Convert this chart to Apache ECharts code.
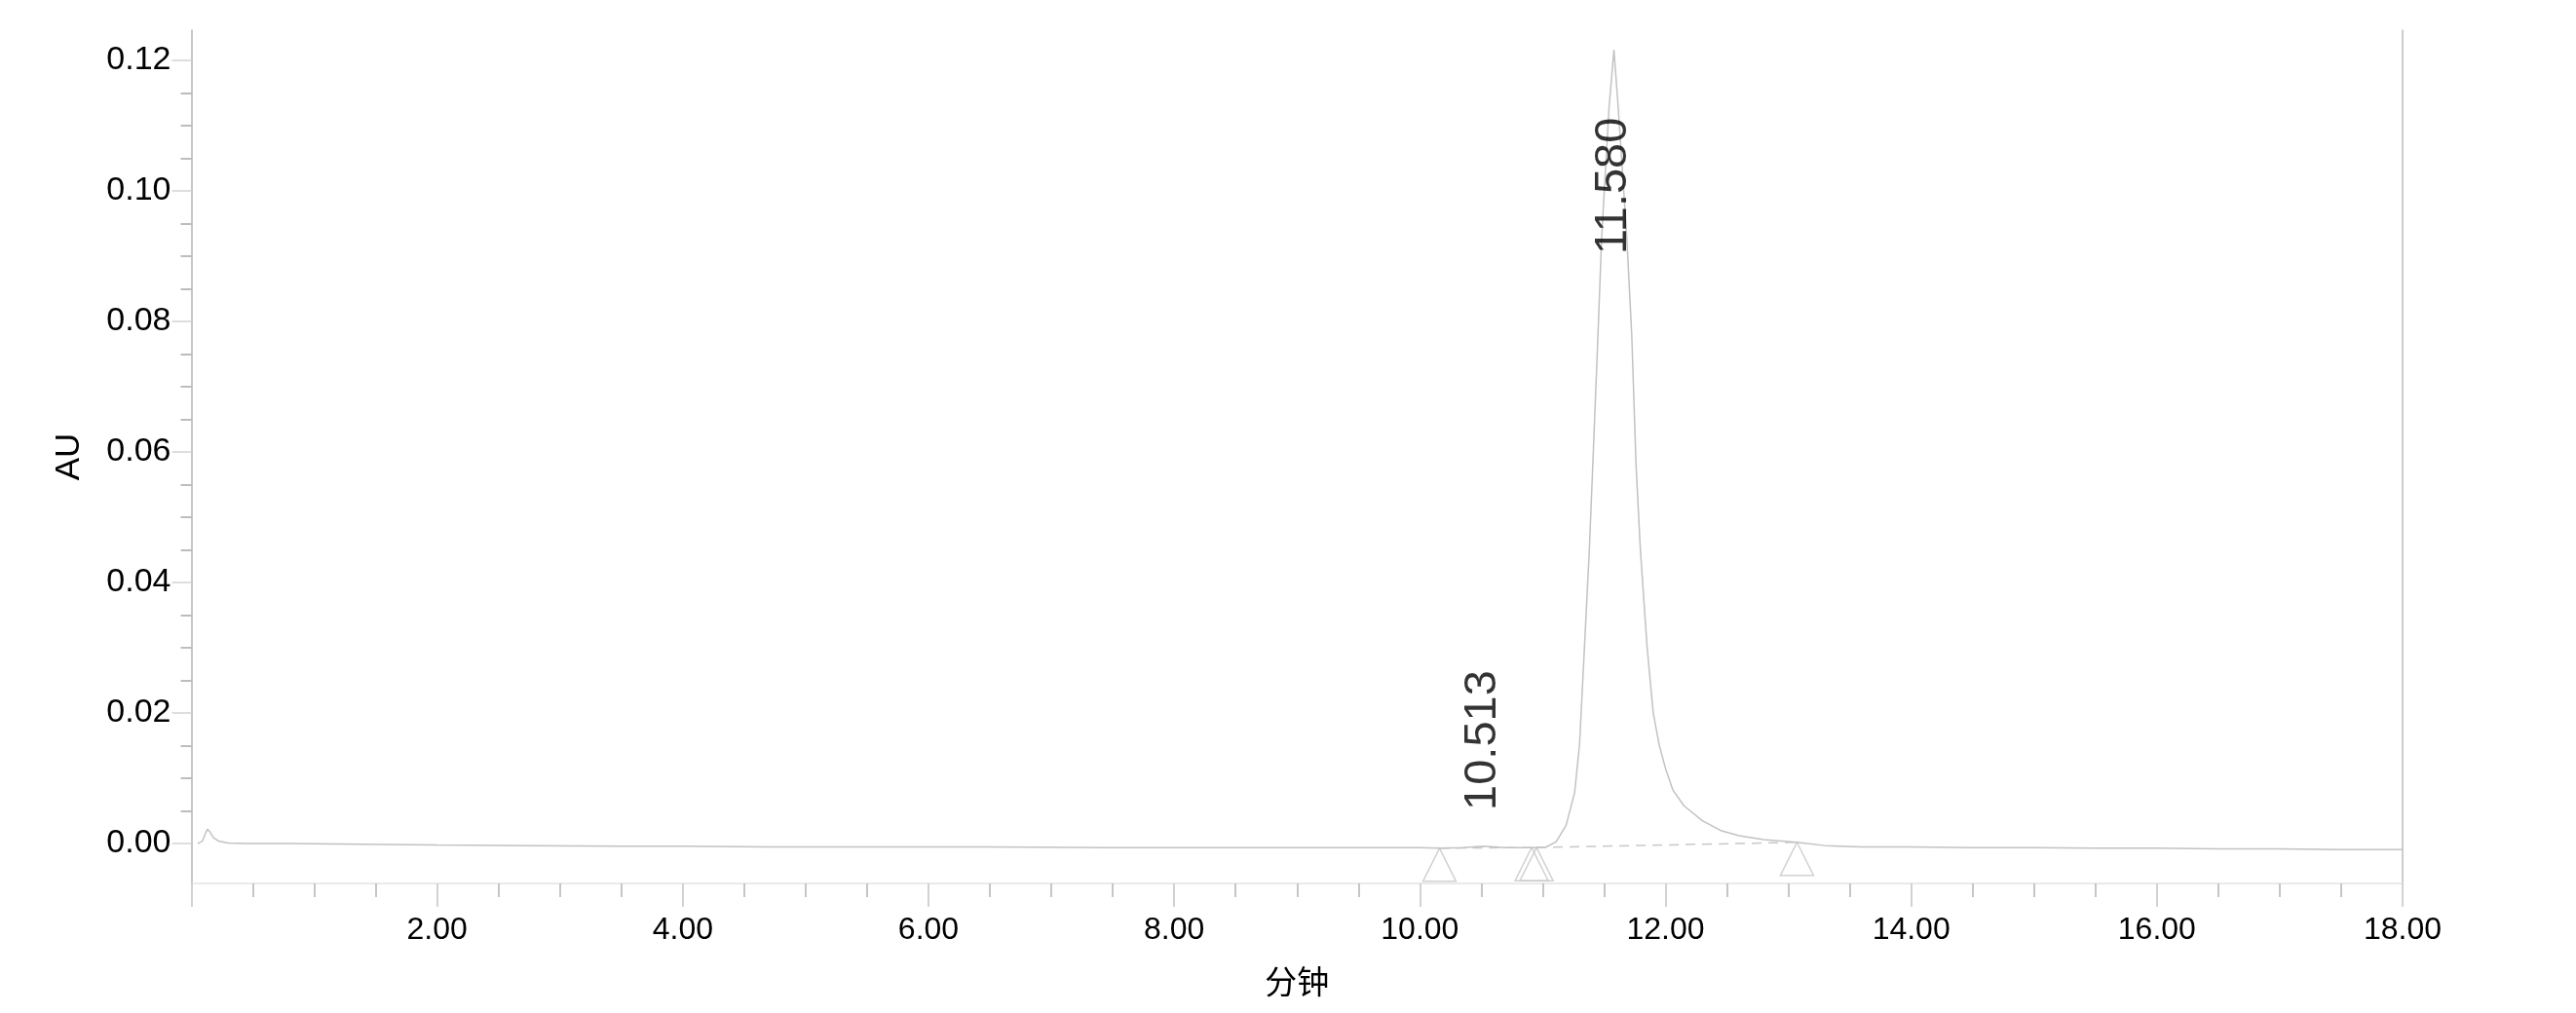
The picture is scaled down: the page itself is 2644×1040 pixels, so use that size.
<!DOCTYPE html>
<html>
<head>
<meta charset="utf-8">
<script src="https://cdn.jsdelivr.net/npm/echarts@6/dist/echarts.min.js"></script>
<style>
html,body{margin:0;padding:0;background:#fff;}
#chart{width:2644px;height:1040px;}
</style>
</head>
<body>
<div id="chart"></div>
<script>
// ---- data ----
const times = [0.05, 0.09, 0.11, 0.13, 0.15, 0.18, 0.22, 0.30, 0.45, 0.8, 1.4, 2.0, 2.8, 3.5, 4.0, 4.7, 5.5, 6.5, 7.5, 8.5, 9.5, 10.0, 10.16, 10.35, 10.513, 10.7, 10.93, 11.03, 11.11, 11.19, 11.26, 11.30, 11.34, 11.38, 11.41, 11.45, 11.48, 11.54, 11.58, 11.615, 11.685, 11.725, 11.76, 11.795, 11.85, 11.90, 11.95, 12.0, 12.06, 12.15, 12.3, 12.45, 12.6, 12.8, 13.07, 13.3, 13.6, 14.0, 14.5, 15.0, 15.5, 16.0, 16.5, 17.0, 17.5, 18.0];
const absorbance = [0.0000, 0.0004, 0.0014, 0.0022, 0.0018, 0.0009, 0.0004, 0.0001, 0.0000, 0.0000, -0.0001, -0.0002, -0.0003, -0.0004, -0.0004, -0.0005, -0.0005, -0.0005, -0.0006, -0.0006, -0.0006, -0.0006, -0.0007, -0.0006, -0.0004, -0.0006, -0.0006, -0.0005, 0.0003, 0.0028, 0.0078, 0.0152, 0.0301, 0.0451, 0.0590, 0.0779, 0.0928, 0.1127, 0.1216, 0.1127, 0.0928, 0.0779, 0.0580, 0.0451, 0.0301, 0.0200, 0.0150, 0.0115, 0.0082, 0.0058, 0.0035, 0.0020, 0.0012, 0.0006, 0.0002, -0.0003, -0.0005, -0.0005, -0.0006, -0.0006, -0.0007, -0.0007, -0.0008, -0.0008, -0.0009, -0.0009];

const peakTimes = [10.513, 11.580];
const peakLabelY = [0.0051, 0.0903];

const markerTimes = [10.16, 10.91, 10.95, 13.07];
const markerValues = [-0.0007, -0.0006, -0.0006, 0.0002];

// integration baselines: [start marker index, end marker index]
const baselinePairs = [[0, 1], [2, 3]];

const yLabelValues = [0, 0.02, 0.04, 0.06, 0.08, 0.10, 0.12];
const yMinorTickValues = [0.005, 0.01, 0.015, 0.025, 0.03, 0.035, 0.045, 0.05, 0.055, 0.065, 0.07, 0.075, 0.085, 0.09, 0.095, 0.105, 0.11, 0.115];

const xMin = 0, xMax = 18, xInterval = 2;
const yMin = -0.0061, yMax = 0.1246;

// ---- build ----
const FONT = '"Liberation Sans", Arial, sans-serif';
const traceData = times.map((t, i) => [t, absorbance[i]]);
const markerData = markerTimes.map((t, i) => [t, markerValues[i]]);
const labelData = peakTimes.map((t, i) => [t, peakLabelY[i]]);

const baselineSeries = baselinePairs.map(p => ({
  type: 'line',
  data: [markerData[p[0]], markerData[p[1]]],
  showSymbol: false,
  silent: true,
  lineStyle: { color: '#c8c8c8', width: 1.5, type: [10, 7] },
  z: 2
}));

const chart = echarts.init(document.getElementById('chart'), null, { renderer: 'canvas' });
chart.setOption({
  animation: false,
  backgroundColor: '#ffffff',
  grid: { left: 196.5, right: 178, top: 31, bottom: 133, containLabel: false },
  xAxis: {
    type: 'value',
    min: xMin, max: xMax, interval: xInterval,
    name: '分钟',
    nameLocation: 'middle',
    nameGap: 84,
    nameTextStyle: { fontFamily: '"Noto Sans CJK SC", sans-serif', fontSize: 33, color: '#000' },
    axisLine: { show: true, onZero: false, lineStyle: { color: '#e4e4e4', width: 1.5 } },
    axisTick: { show: true, length: 24, lineStyle: { color: '#c4c4c4', width: 1.5 } },
    minorTick: { show: true, splitNumber: 4, length: 14, lineStyle: { color: '#b4b4b4', width: 1.5 } },
    splitLine: { show: false },
    axisLabel: {
      fontFamily: FONT, fontSize: 32, color: '#000', margin: 32,
      formatter: v => (v === 0 ? '' : v.toFixed(2))
    }
  },
  yAxis: [
    {
      type: 'value',
      min: yMin, max: yMax,
      name: 'AU',
      nameLocation: 'middle',
      nameGap: 108,
      nameTextStyle: { fontFamily: FONT, fontSize: 35, color: '#000' },
      axisLine: { show: true, lineStyle: { color: '#b4b4b4', width: 1.5 } },
      axisTick: { show: true, length: 20, customValues: yLabelValues, lineStyle: { color: '#d4d4d4', width: 1.5 } },
      splitLine: { show: false },
      axisLabel: {
        fontFamily: FONT, fontSize: 34, color: '#000', margin: 21,
        customValues: yLabelValues,
        formatter: v => v.toFixed(2)
      }
    },
    {
      type: 'value',
      min: yMin, max: yMax,
      position: 'left',
      axisLine: { show: false },
      axisTick: { show: true, length: 11, customValues: yMinorTickValues, lineStyle: { color: '#a8a8a8', width: 1.5 } },
      axisLabel: { show: false },
      splitLine: { show: false }
    },
    {
      type: 'value',
      min: yMin, max: yMax,
      position: 'right',
      axisLine: { show: true, lineStyle: { color: '#bdbdbd', width: 1.5 } },
      axisTick: { show: false },
      axisLabel: { show: false },
      splitLine: { show: false }
    }
  ],
  series: [
    {
      type: 'line',
      data: traceData,
      showSymbol: false,
      silent: true,
      lineStyle: { color: '#c2c2c2', width: 1.5 },
      z: 3
    },
    ...baselineSeries,
    {
      type: 'scatter',
      data: markerData,
      symbol: 'triangle',
      symbolSize: [34, 34],
      symbolOffset: [0, 17],
      silent: true,
      itemStyle: { color: 'rgba(255,255,255,0)', borderColor: '#c6c6c6', borderWidth: 1.5 },
      z: 4
    },
    {
      type: 'scatter',
      data: labelData,
      symbolSize: 0,
      silent: true,
      itemStyle: { color: '#000' },
      label: {
        show: true,
        position: 'inside',
        rotate: 90,
        align: 'left',
        verticalAlign: 'middle',
        fontFamily: FONT,
        fontSize: 47,
        color: '#000',
        textBorderWidth: 0,
        textBorderColor: 'transparent',
        formatter: p => p.value[0].toFixed(3)
      },
      z: 5
    }
  ]
});
</script>
</body>
</html>
